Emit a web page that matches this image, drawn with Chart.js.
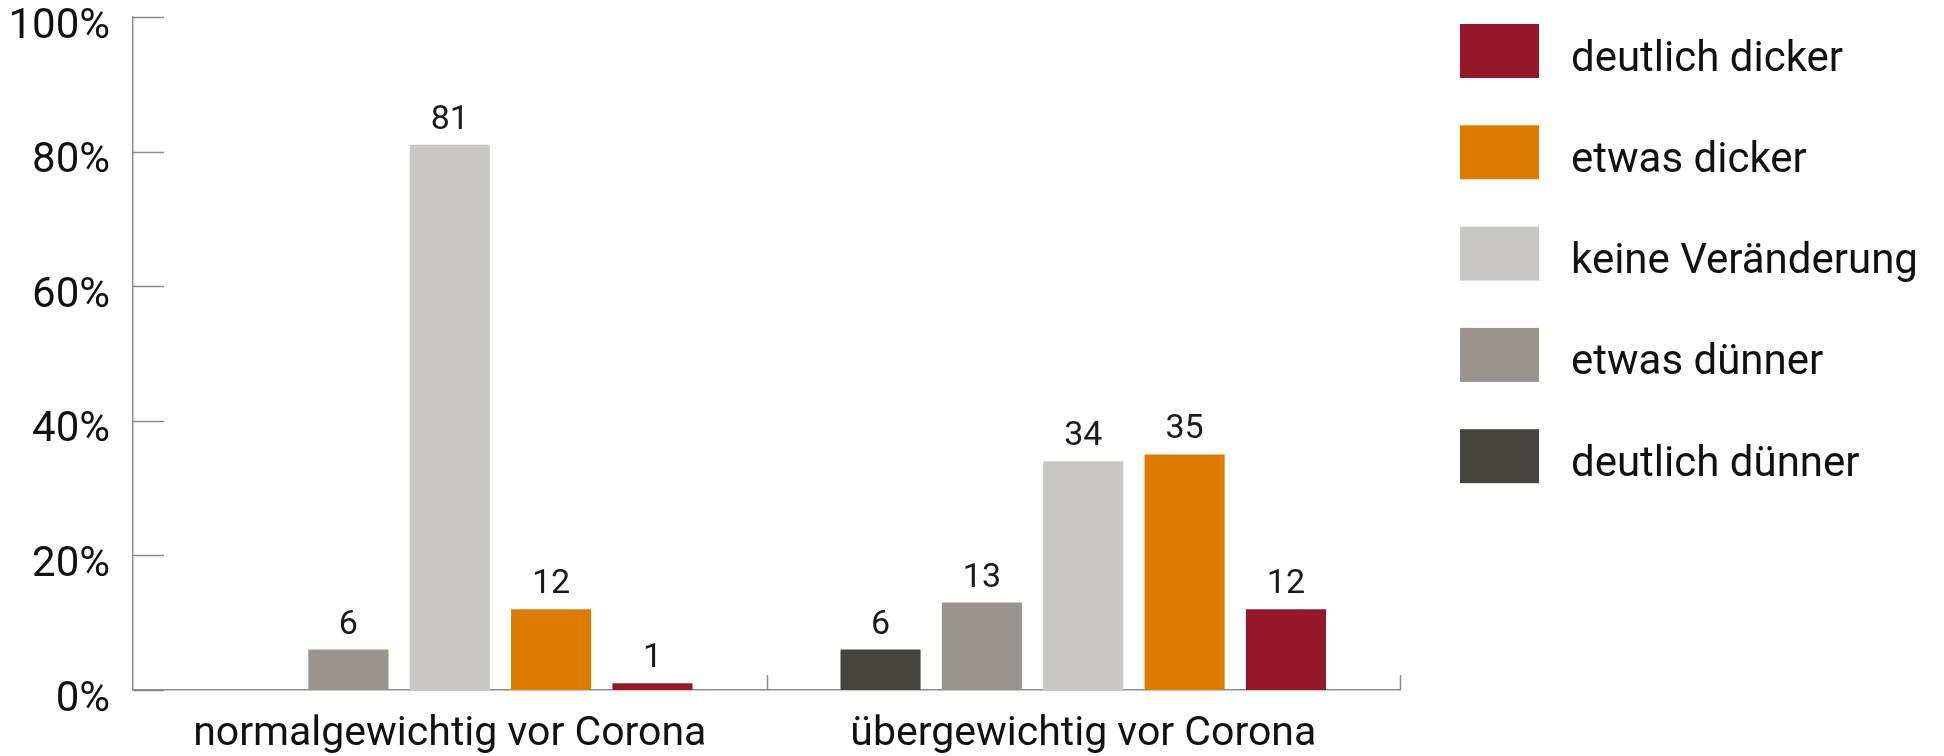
<!DOCTYPE html>
<html>
<head>
<meta charset="utf-8">
<script src="https://cdn.jsdelivr.net/npm/chart.js@4"></script>
<style>
  html, body { margin: 0; padding: 0; background: #fff; }
  #wrap { width: 1944px; height: 756px; }
</style>
</head>
<body>
<div id="wrap"><canvas id="myChart" width="1944" height="756"></canvas></div>
<script>
const categories = ["normalgewichtig vor Corona", "übergewichtig vor Corona"];
const seriesNames = ["deutlich dünner", "etwas dünner", "keine Veränderung", "etwas dicker", "deutlich dicker"];
const seriesColors = ["#45433d", "#99948d", "#c9c8c4", "#dc7b00", "#96172a"];
const deutlichDuenner = [0, 6];
const etwasDuenner = [6, 13];
const keineVeraenderung = [81, 34];
const etwasDicker = [12, 35];
const deutlichDicker = [1, 12];
const yTicks = [0, 20, 40, 60, 80, 100];

const seriesValues = [deutlichDuenner, etwasDuenner, keineVeraenderung, etwasDicker, deutlichDicker];
const axisColor = "#8c8c8c";
const FONT = "Roboto";

// tick marks drawn inward (y ticks to the right, x ticks upward)
const innerTicks = {
  id: "innerTicks",
  afterDatasetsDraw(chart) {
    const { ctx, chartArea } = chart;
    const x = chart.scales.x, y = chart.scales.y;
    const step = x.getPixelForValue(1) - x.getPixelForValue(0);
    ctx.save();
    ctx.strokeStyle = axisColor;
    ctx.lineWidth = 1.5;
    ctx.beginPath();
    yTicks.forEach((v) => {
      const py = Math.round(y.getPixelForValue(v)) + 0.5;
      ctx.moveTo(chartArea.left, py);
      ctx.lineTo(chartArea.left + 31, py);
    });
    for (let i = 1; i <= categories.length; i++) {
      const px = Math.round(x.getPixelForValue(i - 1) + step / 2) + 0.5;
      ctx.moveTo(px, chartArea.bottom);
      ctx.lineTo(px, chartArea.bottom - 15);
    }
    ctx.stroke();
    ctx.restore();
  }
};

// value labels above bars
const valueLabels = {
  id: "valueLabels",
  afterDatasetsDraw(chart) {
    const { ctx } = chart;
    ctx.save();
    ctx.font = `34px ${FONT}`;
    ctx.fillStyle = "#1a1a1a";
    ctx.textAlign = "center";
    ctx.textBaseline = "alphabetic";
    chart.data.datasets.forEach((ds, i) => {
      chart.getDatasetMeta(i).data.forEach((bar, j) => {
        const v = ds.data[j];
        if (!v) return;
        ctx.fillText(String(v), bar.x, bar.y - 16);
      });
    });
    ctx.restore();
  }
};

// legend on the right, reversed order
const sideLegend = {
  id: "sideLegend",
  afterDraw(chart) {
    const { ctx } = chart;
    ctx.save();
    ctx.font = `42px ${FONT}`;
    ctx.textBaseline = "middle";
    ctx.textAlign = "left";
    const order = chart.data.datasets.map((d, i) => i).reverse();
    order.forEach((idx, k) => {
      const ds = chart.data.datasets[idx];
      const top = 24 + k * 101.3;
      ctx.fillStyle = ds.backgroundColor;
      ctx.fillRect(1460, top, 79, 54);
      ctx.fillStyle = "#111";
      ctx.fillText(ds.label, 1571, top + 36);
    });
    ctx.restore();
  }
};

const ctx = document.getElementById("myChart").getContext("2d");
const myChart = new Chart(ctx, {
  type: "bar",
  data: {
    labels: categories,
    datasets: seriesNames.map((name, i) => ({
      label: name,
      data: seriesValues[i],
      backgroundColor: seriesColors[i],
      borderWidth: 0,
      categoryPercentage: 0.8,
      barPercentage: 0.79,
    })),
  },
  options: {
    responsive: false,
    animation: false,
    layout: { padding: { top: 17, right: 544, left: 0, bottom: 0 } },
    plugins: {
      legend: { display: false },
      tooltip: { enabled: false },
    },
    scales: {
      x: {
        grid: { display: false, drawTicks: false },
        border: { color: axisColor, width: 1.5 },
        ticks: { color: "#111", font: { family: FONT, size: 41 }, padding: 20, maxRotation: 0 },
        afterFit(s) { s.height = 66; s.paddingLeft = 0; s.paddingRight = 0; },
      },
      y: {
        min: 0,
        max: 100,
        afterBuildTicks(s) { s.ticks = yTicks.map((v) => ({ value: v })); },
        grid: { display: false, drawTicks: false },
        border: { color: axisColor, width: 1.5 },
        ticks: {
          color: "#111",
          font: { family: FONT, size: 42 },
          padding: 23,
          labelOffset: 10,
          callback: (v) => v + "%",
        },
        afterFit(s) { s.width = 133; s.paddingTop = 0; s.paddingBottom = 0; },
      },
    },
  },
  plugins: [innerTicks, valueLabels, sideLegend],
});
</script>
</body>
</html>
